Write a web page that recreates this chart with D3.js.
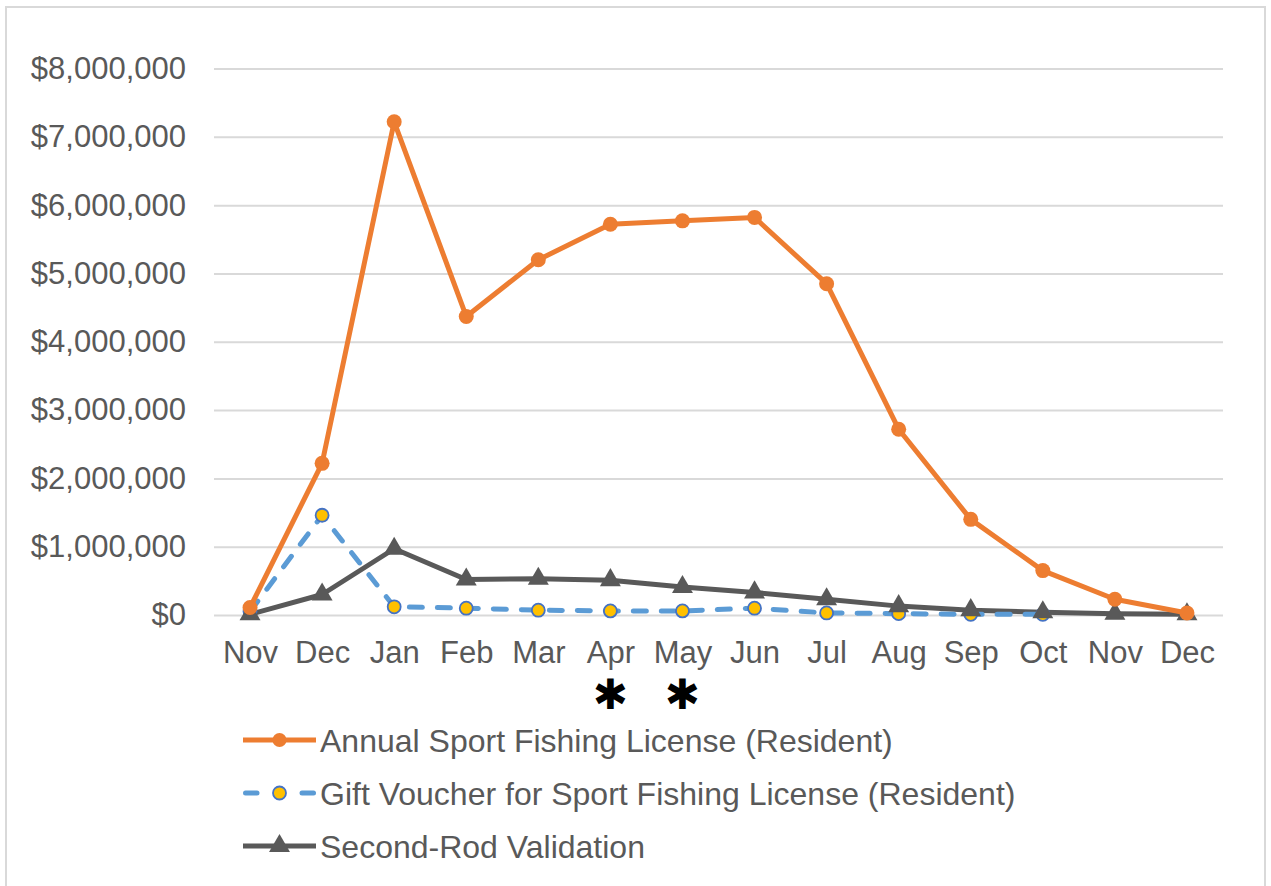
<!DOCTYPE html>
<html>
<head>
<meta charset="utf-8">
<script src="https://d3js.org/d3.v7.min.js"></script>
<style>
  body { margin: 0; background: #fff; }
  text { font-family: "Liberation Sans", Arial, sans-serif; }
</style>
</head>
<body>
<div id="chart"></div>
<script>
// months along the x axis (Nov .. Dec of the following year)
var months = ["Nov", "Dec", "Jan", "Feb", "Mar", "Apr", "May", "Jun", "Jul", "Aug", "Sep", "Oct", "Nov", "Dec"];

// values, in dollars
var annualLicense = [110000, 2220000, 7220000, 4370000, 5200000, 5720000, 5770000, 5820000, 4850000, 2720000, 1400000, 650000, 230000, 30000];
var giftVoucher = [50000, 1460000, 120000, 100000, 70000, 60000, 60000, 100000, 30000, 20000, 10000, 10000, null, null];
var secondRod = [10000, 300000, 970000, 520000, 530000, 510000, 410000, 330000, 230000, 130000, 70000, 40000, 20000, 10000];

var yTicks = [0, 1000000, 2000000, 3000000, 4000000, 5000000, 6000000, 7000000, 8000000];
var starMonths = [5, 6]; // Apr and May get an asterisk

var seriesNames = [
    "Annual Sport Fishing License (Resident)",
    "Gift Voucher for Sport Fishing License (Resident)",
    "Second-Rod Validation"
];

var w = 1271, h = 886;
var plotLeft = 214, plotRight = 1223, plotTop = 68.5, plotBottom = 615;
var lineW = 5;

var svg = d3.select("#chart").append("svg")
    .attr("width", w)
    .attr("height", h);

// outer frame
svg.append("rect")
    .attr("x", 6).attr("y", 7)
    .attr("width", 1259).attr("height", 890)
    .attr("fill", "#fff")
    .attr("stroke", "#d9d9d9")
    .attr("stroke-width", 2);

var x = d3.scalePoint()
    .domain(d3.range(months.length))
    .range([plotLeft, plotRight])
    .padding(0.5);

var y = d3.scaleLinear()
    .domain([0, 8000000])
    .range([plotBottom, plotTop]);

// gridlines + y labels
var yAxis = d3.axisLeft(y)
    .tickValues(yTicks)
    .tickSize(-(plotRight - plotLeft))
    .tickPadding(28)
    .tickFormat(function (d) { return "$" + d3.format(",")(d); });

var gy = svg.append("g")
    .attr("transform", "translate(" + plotLeft + ",0)")
    .call(yAxis);
gy.select(".domain").remove();
gy.selectAll("line").attr("stroke", "#d9d9d9").attr("stroke-width", 2);
gy.selectAll("text")
    .attr("fill", "#595959")
    .style("font-size", "31px");

// x labels
var xAxis = d3.axisBottom(x)
    .tickSize(0)
    .tickPadding(26)
    .tickFormat(function (d) { return months[d]; });

var gx = svg.append("g")
    .attr("transform", "translate(0," + plotBottom + ")")
    .call(xAxis);
gx.select(".domain").remove();
gx.selectAll("text")
    .attr("fill", "#595959")
    .style("font-size", "31px");

// asterisks under Apr and May (heavy asterisk sits centred, keeps its box small)
svg.selectAll(".star")
    .data(starMonths)
    .enter()
    .append("text")
    .attr("class", "star")
    .attr("x", function (d) { return x(d); })
    .attr("y", 709)
    .attr("text-anchor", "middle")
    .attr("fill", "#000")
    .style("font-family", "'DejaVu Sans', sans-serif")
    .style("font-size", "42px")
    .text("\u2731");

function lineFor(vals) {
    return d3.line()
        .defined(function (d) { return d != null; })
        .x(function (d, i) { return x(i); })
        .y(function (d) { return y(d); })(vals);
}

var triangle = d3.symbol().type(d3.symbolTriangle).size(190);

// Second-Rod Validation (drawn first, behind)
svg.append("path")
    .attr("d", lineFor(secondRod))
    .attr("fill", "none")
    .attr("stroke", "#595959")
    .attr("stroke-width", lineW)
    .attr("stroke-linejoin", "round");

// Gift voucher dashed line
svg.append("path")
    .attr("d", lineFor(giftVoucher))
    .attr("fill", "none")
    .attr("stroke", "#5b9bd5")
    .attr("stroke-width", lineW)
    .attr("stroke-linecap", "round")
    .attr("stroke-dasharray", "13,15");

svg.selectAll(".gift")
    .data(giftVoucher.map(function (v, i) { return { v: v, i: i }; }).filter(function (d) { return d.v != null; }))
    .enter()
    .append("circle")
    .attr("class", "gift")
    .attr("cx", function (d) { return x(d.i); })
    .attr("cy", function (d) { return y(d.v); })
    .attr("r", 6.5)
    .attr("fill", "#ffc000")
    .attr("stroke", "#4472c4")
    .attr("stroke-width", 1.8);

svg.selectAll(".rod")
    .data(secondRod)
    .enter()
    .append("path")
    .attr("class", "rod")
    .attr("d", triangle)
    .attr("transform", function (d, i) { return "translate(" + x(i) + "," + y(d) + ")"; })
    .attr("fill", "#595959");

// Annual license
svg.append("path")
    .attr("d", lineFor(annualLicense))
    .attr("fill", "none")
    .attr("stroke", "#ed7d31")
    .attr("stroke-width", lineW)
    .attr("stroke-linejoin", "round");

svg.selectAll(".annual")
    .data(annualLicense)
    .enter()
    .append("circle")
    .attr("class", "annual")
    .attr("cx", function (d, i) { return x(i); })
    .attr("cy", function (d) { return y(d); })
    .attr("r", 7.5)
    .attr("fill", "#ed7d31");

// legend
var legendY = [740, 793, 846];
var legend = svg.selectAll(".legend")
    .data(seriesNames)
    .enter()
    .append("g")
    .attr("class", "legend")
    .attr("transform", function (d, i) { return "translate(243," + legendY[i] + ")"; });

legend.append("text")
    .attr("x", 77)
    .attr("y", 11.5)
    .attr("fill", "#595959")
    .style("font-size", "32px")
    .text(function (d) { return d; });

// orange entry
var l0 = legend.filter(function (d, i) { return i === 0; });
l0.append("line").attr("x1", 0).attr("x2", 73).attr("y1", 0).attr("y2", 0)
    .attr("stroke", "#ed7d31").attr("stroke-width", lineW);
l0.append("circle").attr("cx", 36.5).attr("cy", 0).attr("r", 7).attr("fill", "#ed7d31");

// blue entry: short dash, marker, short dash
var l1 = legend.filter(function (d, i) { return i === 1; });
[[2.5, 14], [59, 70.5]].forEach(function (seg) {
    l1.append("line").attr("x1", seg[0]).attr("x2", seg[1]).attr("y1", 0).attr("y2", 0)
        .attr("stroke", "#5b9bd5").attr("stroke-width", lineW)
        .attr("stroke-linecap", "round");
});
l1.append("circle").attr("cx", 36.5).attr("cy", 0).attr("r", 6.5)
    .attr("fill", "#ffc000").attr("stroke", "#4472c4").attr("stroke-width", 1.8);

// gray entry
var l2 = legend.filter(function (d, i) { return i === 2; });
l2.append("line").attr("x1", 0).attr("x2", 73).attr("y1", 0).attr("y2", 0)
    .attr("stroke", "#595959").attr("stroke-width", lineW);
l2.append("path").attr("d", triangle).attr("transform", "translate(36.5,0)").attr("fill", "#595959");
</script>
</body>
</html>
